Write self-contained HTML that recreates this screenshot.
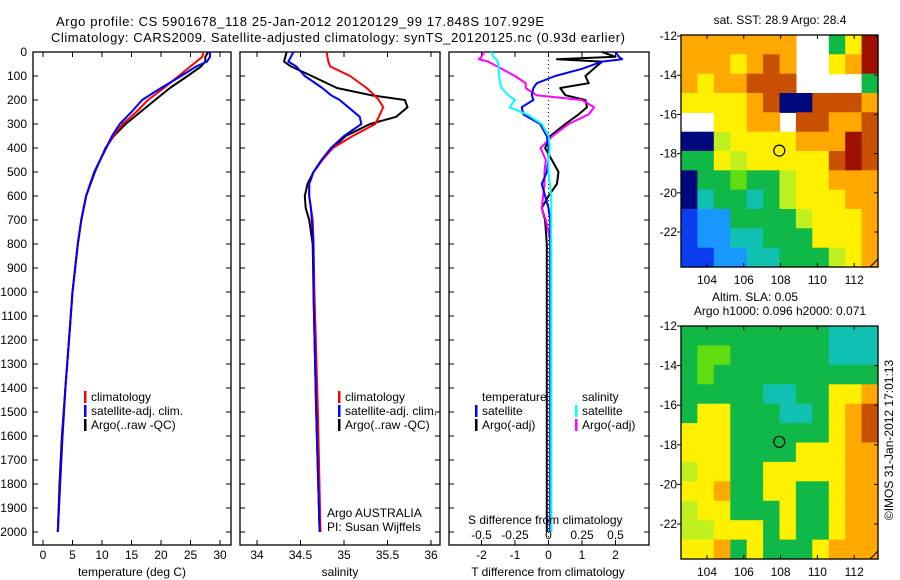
<!DOCTYPE html>
<html><head><meta charset="utf-8">
<style>
html,body{margin:0;padding:0;background:#fff;}
svg{display:block;font-family:"Liberation Sans",sans-serif;}
text{font-size:12px;fill:#000;}
</style></head>
<body>
<svg id="c" width="900" height="580" viewBox="0 0 900 580" xmlns="http://www.w3.org/2000/svg">
<text x="56" y="26" font-size="13" style="font-size:13px" textLength="488">Argo profile: CS 5901678_118 25-Jan-2012 20120129_99 17.848S 107.929E</text>
<text x="51" y="42" font-size="13" style="font-size:13px" textLength="574">Climatology: CARS2009. Satellite-adjusted climatology: synTS_20120125.nc (0.93d earlier)</text>
<g id="g"></g>
</svg>
<script>
// ---------- data ----------
const depths=[0,20,40,60,100,150,200,250,300,350,400,500,600,700,800,1000,1200,1400,1600,1800,2000];
const tempClim=[27.2,27,26,25,23,20.5,17.8,15.8,13.5,11.9,10.7,8.7,7.3,6.5,5.9,5.0,4.4,3.8,3.3,2.9,2.5];
const tempSat=[28.3,28.3,27.8,26,23.4,20,16.8,15,13,11.7,10.7,8.7,7.3,6.5,5.9,5.0,4.4,3.8,3.3,2.9,2.5];
const tempArgo=[28,27.5,27.5,26.8,24.5,21.5,19,16.5,14,12,10.6,8.8,7.3,6.5,5.9,5.0,4.4,3.8,3.2,2.8,2.5];
const salDepths=[0,40,60,100,150,180,200,230,270,300,350,400,450,500,550,600,650,700,800,1000,1500,2000];
const salClim=[34.8,34.82,34.84,35.07,35.26,35.35,35.4,35.45,35.4,35.36,35.1,34.87,34.75,34.65,34.6,34.6,34.62,34.64,34.65,34.66,34.7,34.73];
const salSat=[34.42,34.36,34.45,34.55,34.75,34.85,34.95,35.05,35.18,35.2,35.0,34.85,34.74,34.65,34.6,34.6,34.62,34.63,34.65,34.65,34.68,34.72];
const salArgo=[34.34,34.31,34.39,34.63,34.92,35.31,35.7,35.73,35.6,35.3,35.02,34.87,34.75,34.65,34.58,34.55,34.56,34.6,34.64,34.65,34.68,34.72];
const diffDepths=[0,20,30,40,70,100,130,150,180,200,230,260,300,350,400,450,500,550,600,650,700,800,1000,1500,2000];
const dTSat=[2.0,2.1,2.2,1.6,1.0,0.2,-0.35,-0.45,-0.5,-0.45,-0.8,-0.75,-0.25,-0.05,0,0,-0.05,-0.2,-0.1,0,0.05,0.05,0.05,0.05,0.05];
const dTArgo=[1.6,2.0,0.25,1.6,1.35,1.1,1.2,0.35,0.5,1.1,1.15,0.9,0.5,0.05,-0.1,0.1,0.3,0.25,0,-0.2,-0.1,-0.05,-0.05,-0.05,-0.05];
const dSArgo=[-0.48,-0.5,-0.52,-0.45,-0.35,-0.25,-0.17,-0.17,-0.09,0.25,0.34,0.3,0.15,0.03,-0.06,-0.02,-0.03,-0.03,-0.04,-0.05,-0.02,0.02,0.02,0.02,0.02];
const dSSat=[-0.43,-0.41,-0.39,-0.38,-0.37,-0.37,-0.36,-0.35,-0.3,-0.25,-0.29,-0.16,-0.05,0,0.01,0,0,0.01,0.02,0.02,0.02,0.02,0.02,0.02,0.02];
const depthTicks=[0,100,200,300,400,500,600,700,800,900,1000,1100,1200,1300,1400,1500,1600,1700,1800,1900,2000];
const tempTicks=[0,5,10,15,20,25,30];
const salTicks=[34,34.5,35,35.5,36];
const dTTicks=[-2,-1,0,1,2];
const dSTicks=[-0.5,-0.25,0,0.25,0.5];
const dSTickLabels=["-0.5","-0.25","0","0.25","0.5"];
const latTicks=[-12,-14,-16,-18,-20,-22];
const lonTicks=[104,106,108,110,112];
const sstGrid=["8888888--47a","8887898--78a","8788999----4","777789009998","--7788-99889","0067777888a9","4476777779a9","044544677888","034434677788","122444467778","122334447778","112233444678"];
const slaGrid=["444444444333","455444444333","454444444444","444443344778","477444334789","777444444789","777444477788","677447777788","778447744788","677444744788","667774744788","778474447888"];
const palette={"0":"#00087e","1":"#0a3cf0","2":"#1898ff","3":"#10c0b0","4":"#10b848","5":"#60dc10","6":"#c0f020","7":"#fff000","8":"#ffa800","9":"#c85000","a":"#a01000"};

// ---------- helpers ----------
const NS="http://www.w3.org/2000/svg";
const G=document.getElementById('g');
function mk(tag,attrs,parent){const e=document.createElementNS(NS,tag);for(const k in attrs)e.setAttribute(k,attrs[k]);(parent||G).appendChild(e);return e;}
function txt(x,y,s,anchor,parent){const e=mk('text',{x:x,y:y,'text-anchor':anchor||'start'},parent);e.textContent=s;return e;}
const Y=d=>52+d*0.24;
const Y0=52,Y1=545;
const xT=v=>43+v*5.9;
const xS=v=>257+(v-34)*87;
const xDT=v=>548.5+v*33.5;
const xDS=v=>548.5+v*134;

function frame(x0,x1,name){
  const r=mk('rect',{x:x0,y:Y0,width:x1-x0,height:Y1-Y0,fill:'none',stroke:'#000','stroke-width':1.3});
  
  
  depthTicks.forEach(d=>{mk('line',{x1:x0,y1:Y(d),x2:x0+5,y2:Y(d),stroke:'#000'});mk('line',{x1:x1,y1:Y(d),x2:x1-5,y2:Y(d),stroke:'#000'});});
}
function line(xs,ds,xf,color,name,w){
  const pts=xs.map((v,i)=>xf(v).toFixed(1)+','+Y(ds[i]).toFixed(1)).join(' ');
  const p=mk('polyline',{points:pts,fill:'none',stroke:color,'stroke-width':w||2,'stroke-linejoin':'round'});
  
  
}
function xaxis(ticks,xf,labels,x0,x1,title,tx,name){
  const g=mk('g',{});
  
  
  ticks.forEach((t,i)=>{mk('line',{x1:xf(t),y1:Y1,x2:xf(t),y2:Y1-5,stroke:'#000'},g);mk('line',{x1:xf(t),y1:Y0,x2:xf(t),y2:Y0+5,stroke:'#000'},g);txt(xf(t),559,labels?labels[i]:String(t),'middle',g);});
  txt(tx,576,title,'middle',g);
}

// y axis labels
const ya=mk('g',{});


depthTicks.forEach(d=>txt(27,Y(d)+4,String(d),'end',ya));

// panel 1 temperature
frame(33,231,'temperature-panel');
xaxis(tempTicks,xT,null,33,231,'temperature (deg C)',132,'temperature-x-axis');
line(tempArgo,depths,xT,'#000','temp-argo-line');
line(tempClim,depths,xT,'#f00','temp-climatology-line');
line(tempSat,depths,xT,'#00f','temp-satellite-line');

// panel 2 salinity
frame(240,440,'salinity-panel');
xaxis(salTicks,xS,null,240,440,'salinity',340,'salinity-x-axis');
line(salArgo,salDepths,xS,'#000','salinity-argo-line');
line(salClim,salDepths,xS,'#f00','salinity-climatology-line');
line(salSat,salDepths,xS,'#00f','salinity-satellite-line');

// panel 3 differences
frame(449,649,'difference-panel');
xaxis(dTTicks,xDT,null,449,649,'T difference from climatology',548,'t-diff-x-axis');
mk('line',{x1:548.5,y1:Y0,x2:548.5,y2:Y1,stroke:'#000','stroke-dasharray':'1,3'});
line(dTArgo,diffDepths,xDT,'#000','t-diff-argo-line');
line(dSArgo,diffDepths,xDS,'#f0f','s-diff-argo-line');
line(dTSat,diffDepths,xDT,'#00f','t-diff-satellite-line');
line(dSSat,diffDepths,xDS,'#0ff','s-diff-satellite-line');
const sax=mk('g',{});


txt(468,524,'S difference from climatology','start',sax);
dSTicks.forEach((t,i)=>txt(xDS(t),539,dSTickLabels[i],'middle',sax));

// legends
function legend(x,y,color,label,name){
  const g=mk('g',{});
  
  
  mk('rect',{x:x,y:y-10,width:2.5,height:12,fill:color},g);
  txt(x+7,y,label,'start',g);
}
legend(84,401,'#f00','climatology','legend-climatology');
legend(84,415,'#00f','satellite-adj. clim.','legend-satellite-adj');
legend(84,429,'#000','Argo(..raw -QC)','legend-argo');
legend(338,401,'#f00','climatology','legend2-climatology');
legend(338,415,'#00f','satellite-adj. clim.','legend2-satellite-adj');
legend(338,429,'#000','Argo(..raw -QC)','legend2-argo');
txt(482,401,'temperature');txt(582,401,'salinity');
legend(475,415,'#00f','satellite','legend-t-satellite');
legend(475,429,'#000','Argo(-adj)','legend-t-argo');
legend(575,415,'#0ff','satellite','legend-s-satellite');
legend(575,429,'#f0f','Argo(-adj)','legend-s-argo');
txt(327,517,'Argo AUSTRALIA');txt(327,531,'PI: Susan Wijffels');

// maps
function map(top,bottom,grid,name,latY,titleLines){
  const x0=681,x1=878;
  const g=mk('g',{});
  
  
  const rows=grid.length,cols=grid[0].length;
  const cw=(x1-x0)/cols,ch=(bottom-top)/rows;
  grid.forEach((row,r)=>{for(let c=0;c<cols;c++){const k=row[c];if(k==='-')continue;
    const cell=mk('rect',{x:(x0+c*cw).toFixed(1),y:(top+r*ch).toFixed(1),width:(cw+0.6).toFixed(1),height:(ch+0.6).toFixed(1),fill:palette[k]},g);
    
    }});
  mk('rect',{x:x0,y:top,width:x1-x0,height:bottom-top,fill:'none',stroke:'#000','stroke-width':1.3},g);
  const lonX=v=>707+(v-104)*18.4;
  lonTicks.forEach(v=>{mk('line',{x1:lonX(v),y1:top,x2:lonX(v),y2:top+4,stroke:'#000'},g);mk('line',{x1:lonX(v),y1:bottom,x2:lonX(v),y2:bottom-4,stroke:'#000'},g);txt(lonX(v),bottom+17,String(v),'middle',g);});
  latTicks.forEach(v=>{const y=latY(v);mk('line',{x1:x0,y1:y,x2:x0-4,y2:y,stroke:'#000'},g);mk('line',{x1:x1,y1:y,x2:x1-4,y2:y,stroke:'#000'},g);txt(677,y+4,String(v),'end',g);});
  const m=mk('circle',{cx:lonX(107.929),cy:latY(-17.848),r:5.5,fill:'none',stroke:'#000','stroke-width':1.2},g);
  
  
  mk('path',{d:`M${x1-8} ${bottom} L${x1} ${bottom-8}`,stroke:'#000',fill:'none'},g);
  titleLines.forEach(t=>txt(t[0],t[1],t[2],'middle',g));
}
map(35,267,sstGrid,'sst-map',v=>36+(-12-v)*19.6,[[780,24,'sat. SST: 28.9  Argo: 28.4']]);
map(326,559,slaGrid,'sla-map',v=>326+(-12-v)*19.8,[[755,301,'Altim. SLA: 0.05'],[780,315,'Argo h1000: 0.096 h2000: 0.071']]);
const cr=txt(0,0,'©IMOS 31-Jan-2012 17:01:13','middle');
cr.setAttribute('transform','translate(893,440) rotate(-90)');


</script>
</body></html>
